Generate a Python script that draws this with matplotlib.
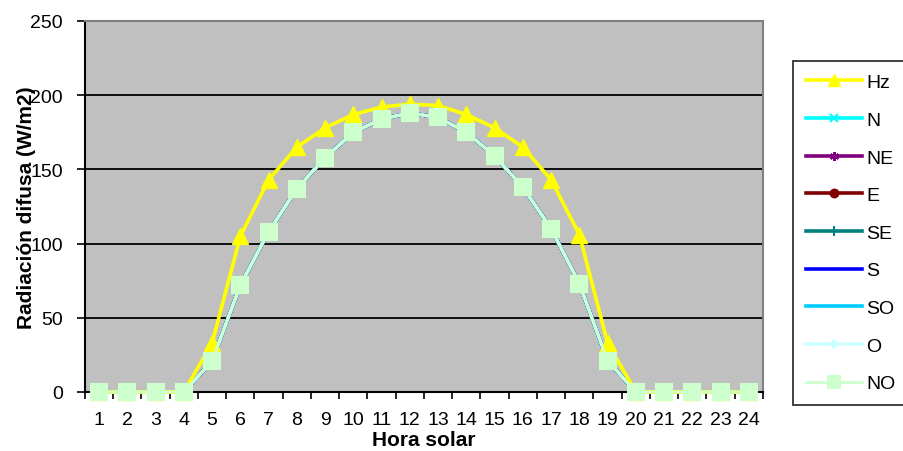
import matplotlib
matplotlib.use("Agg")
import matplotlib.pyplot as plt
from matplotlib.ticker import FixedLocator, NullFormatter

# Hourly diffuse irradiance on a horizontal plane and on vertical surfaces
hours = list(range(1, 25))
hz = [0, 0, 0, 0, 33, 105, 143, 165, 178, 187, 192, 194,
      193, 187, 178, 165, 143, 106, 33, 0, 0, 0, 0, 0]
vertical = [0, 0, 0, 0, 21, 72, 108, 137, 158, 175, 184, 188,
            185, 175, 159, 138, 110, 73, 21, 0, 0, 0, 0, 0]

orientations = ["N", "NE", "E", "SE", "S", "SO", "O", "NO"]
colors = ["#00FFFF", "#800080", "#800000", "#008080",
          "#0000FF", "#00CCFF", "#CCFFFF", "#CCFFCC"]
markers = ["x", (6, 2, 0), "o", "+", "_", "_", "D", "s"]
marker_sizes = [7, 8, 7, 9, 8, 8, 5, 11]

plt.rcParams["font.family"] = ["Liberation Sans", "DejaVu Sans"]

fig = plt.figure(figsize=(9.04, 4.52), dpi=100)
ax = fig.add_axes([85 / 904, 1 - 393 / 452, (763 - 85) / 904, (393 - 22) / 452])
ax.set_facecolor("#C0C0C0")

ax.plot(hours, hz, color="#FFFF00", lw=2.6, marker="^", ms=11,
        markeredgecolor="#FFFF00", label="Hz", zorder=4, clip_on=False)
for name, c, m, s in zip(orientations, colors, markers, marker_sizes):
    lw = 2.0 if name == "NO" else 2.6
    ax.plot(hours, vertical, color=c, lw=lw, marker=m, ms=s,
            markeredgecolor=c, markeredgewidth=1.5, label=name,
            zorder=5 if name == "NO" else 3, clip_on=False)

ax.set_xlim(0.5, 24.5)
ax.set_ylim(0, 250)
ax.set_yticks([0, 50, 100, 150, 200, 250])
for v in [50, 100, 150, 200]:
    ax.axhline(v, color="black", lw=1.3, zorder=1)

# category axis: ticks on bin edges, labels at bin centres
ax.xaxis.set_major_locator(FixedLocator([i + 0.5 for i in range(0, 25)]))
ax.xaxis.set_major_formatter(NullFormatter())
ax.xaxis.set_minor_locator(FixedLocator(hours))
ax.set_xticklabels([str(h) for h in hours], minor=True,
                   fontfamily=["Liberation Sans Narrow", "Liberation Sans"],
                   fontsize=14)
ax.tick_params(axis="x", which="major", direction="out", length=5,
               width=1.2, color="black")
ax.tick_params(axis="x", which="minor", length=0, pad=14)
ax.tick_params(axis="y", direction="out", length=6, width=1.2,
               labelsize=14, pad=10)

for side in ["top", "right"]:
    ax.spines[side].set_color("#808080")
    ax.spines[side].set_linewidth(1.5)
for side in ["left", "bottom"]:
    ax.spines[side].set_color("black")
    ax.spines[side].set_linewidth(1.5)

ax.set_xlabel("Hora solar", fontsize=15, fontweight="bold", labelpad=1)
ax.set_ylabel("Radiación difusa (W/m2)", fontsize=15, fontweight="bold",
              labelpad=-4)

leg = fig.legend(loc="upper left", bbox_to_anchor=(793 / 904, 1 - 62 / 452),
                 bbox_transform=fig.transFigure, frameon=True, fancybox=False,
                 fontsize=14, handlelength=2.9, handletextpad=0.2,
                 labelspacing=1.03, borderpad=0.65, borderaxespad=0,
                 markerscale=0.8)
leg.get_frame().set_edgecolor("black")
leg.get_frame().set_linewidth(1.3)

fig.savefig("out.png", dpi=100)
